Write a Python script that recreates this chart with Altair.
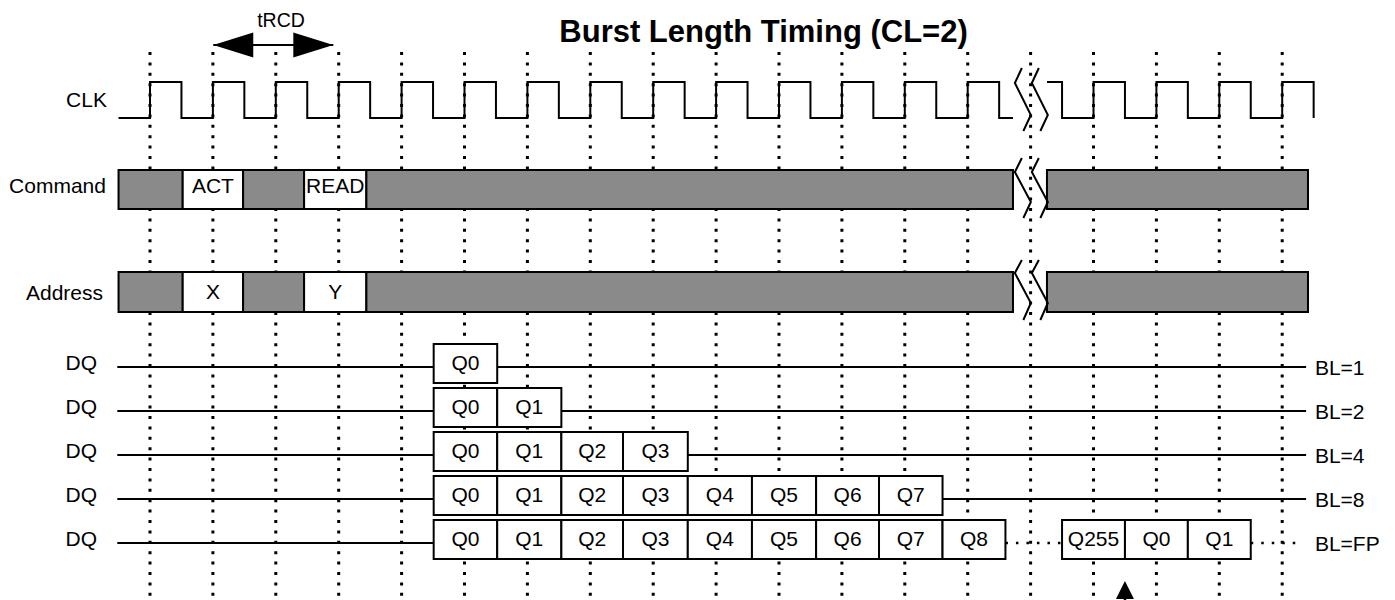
import altair as alt
import pandas as pd

# ---------------- data (x in clock cycles, y in diagram units: top 8 .. bottom 600) -------------
grid_cycles = list(range(0, 19))
grid_top, grid_bottom = 52, 600

clk_high, clk_low = 82, 118
clk_start = -0.5
clk_rises_before = list(range(0, 14))
clk_rises_after = [15, 16, 17, 18]
break_lo, break_hi = 13.72, 14.26

bus_names = ["Command", "Address"]
bus_top = [170, 272]
bus_bottom = [209, 312]
bus_text_base = [193, 299]
bus_edges = [-0.5, 0.52, 1.48, 2.45, 3.44, 13.72]
bus_after = [14.26, 18.41]
bus_texts = [["", "ACT", "", "READ", ""], ["", "X", "", "Y", ""]]

dq_levels = [367, 411, 455, 499, 543]
bl_names = ["BL=1", "BL=2", "BL=4", "BL=8", "BL=FP"]
burst_boxes = [1, 2, 4, 8, 9]
box_edges = [4.51, 5.52, 6.54, 7.52, 8.55, 9.57, 10.59, 11.59, 12.60, 13.60]
fp_edges = [14.5, 15.5, 16.5, 17.5]
fp_texts = ["Q255", "Q0", "Q1"]
dq_start, dq_end, fp_dots_end = -0.52, 18.38, 18.3

zig_left = [13.75, 14.02]
zig_dx = [0.111, 0.0, 0.254, 0.135]
zig_rows = ["CLK", "Command", "Address"]
zig_y = [[68, 83, 115, 131], [158, 172, 202, 218], [260, 273, 303, 320]]

trcd_from, trcd_to, trcd_y = 1.006, 2.914, 45
wrap_x, wrap_tip, wrap_tail = 15.5, 581, 600

right_labels = ["CLK", "Command", "Address"]
right_label_x = [-0.684, -0.70, -0.747]
right_label_y = [106.7, 193, 299.5]
dq_label_x = -0.843
bl_label_x = 18.52

title_text = "Burst Length Timing (CL=2)"
title_x, title_y = 9.754, 41.7
trcd_text = "tRCD"
trcd_text_x, trcd_text_y = 2.083, 26.7

FONT = "Liberation Sans"
W, H = 1375, 592
X_DOM = [-142 / 62.9, (W - 142) / 62.9]
Y_DOM = [8, 8 + H]

xs = alt.Scale(domain=X_DOM, nice=False, zero=False)
ys = alt.Scale(domain=Y_DOM, reverse=True, nice=False, zero=False)


def X(f="x"):
    return alt.X(f"{f}:Q", scale=xs, axis=None)


def Y(f="y"):
    return alt.Y(f"{f}:Q", scale=ys, axis=None)


# ---------------- build tables ----------------
grid_df = pd.DataFrame({"x": grid_cycles, "y": grid_top, "y2": grid_bottom})

clk_rows = []
i = 0
def add(seg, x, y):
    global i
    clk_rows.append({"seg": seg, "i": i, "x": x, "y": y})
    i += 1
add("a", clk_start, clk_low)
for r in clk_rises_before:
    add("a", r, clk_low); add("a", r, clk_high)
    add("a", r + 0.5, clk_high); add("a", r + 0.5, clk_low)
add("a", break_lo, clk_low)
add("b", break_hi, clk_high)
add("b", 14.5, clk_high); add("b", 14.5, clk_low)
for r in clk_rises_after:
    add("b", r, clk_low); add("b", r, clk_high)
    add("b", r + 0.5, clk_high); add("b", r + 0.5, clk_low)
clk_df = pd.DataFrame(clk_rows)

bus_rows, bus_text_rows = [], []
for b, name in enumerate(bus_names):
    for s in range(len(bus_edges) - 1):
        t = bus_texts[b][s]
        bus_rows.append({"x": bus_edges[s], "x2": bus_edges[s + 1],
                         "y": bus_top[b], "y2": bus_bottom[b],
                         "kind": "open" if t else "hatch"})
        if t:
            bus_text_rows.append({"x": (bus_edges[s] + bus_edges[s + 1]) / 2,
                                  "y": bus_text_base[b], "t": t})
    bus_rows.append({"x": bus_after[0], "x2": bus_after[1],
                     "y": bus_top[b], "y2": bus_bottom[b], "kind": "hatch"})
bus_df = pd.DataFrame(bus_rows)
bus_text_df = pd.DataFrame(bus_text_rows)

zig_rows_list = []
for r, name in enumerate(zig_rows):
    for z, xl in enumerate(zig_left):
        for k in range(4):
            zig_rows_list.append({"id": f"{name}{z}", "i": k,
                                  "x": xl + zig_dx[k], "y": zig_y[r][k]})
zig_df = pd.DataFrame(zig_rows_list)

line_rows, dot_rows, box_rows, box_text_rows, dq_lab_rows = [], [], [], [], []
for r, lvl in enumerate(dq_levels):
    n = burst_boxes[r]
    line_rows.append({"x": dq_start, "x2": box_edges[0], "y": lvl})
    for j in range(n):
        box_rows.append({"x": box_edges[j], "x2": box_edges[j + 1],
                         "y": lvl - 23, "y2": lvl + 16})
        box_text_rows.append({"x": (box_edges[j] + box_edges[j + 1]) / 2,
                              "y": lvl + 3, "t": f"Q{j}"})
    if bl_names[r] != "BL=FP":
        line_rows.append({"x": box_edges[n], "x2": dq_end, "y": lvl})
    else:
        dot_rows.append({"x": box_edges[n], "x2": fp_edges[0], "y": lvl})
        dot_rows.append({"x": fp_edges[-1], "x2": fp_dots_end, "y": lvl})
        for j, t in enumerate(fp_texts):
            box_rows.append({"x": fp_edges[j], "x2": fp_edges[j + 1],
                             "y": lvl - 23, "y2": lvl + 16})
            box_text_rows.append({"x": (fp_edges[j] + fp_edges[j + 1]) / 2,
                                  "y": lvl + 3, "t": t})
    dq_lab_rows.append({"x": dq_label_x, "y": lvl + 3, "t": "DQ"})
line_df = pd.DataFrame(line_rows)
dot_df = pd.DataFrame(dot_rows)
box_df = pd.DataFrame(box_rows)
box_text_df = pd.DataFrame(box_text_rows)

right_lab_df = pd.DataFrame(
    [{"x": x, "y": y, "t": t} for t, x, y in zip(right_labels, right_label_x, right_label_y)]
    + dq_lab_rows)
bl_df = pd.DataFrame([{"x": bl_label_x, "y": lvl + 7.5, "t": t}
                      for lvl, t in zip(dq_levels, bl_names)])

# ---------------- layers ----------------
grid = alt.Chart(grid_df).mark_rule(color="black", strokeWidth=3, strokeDash=[3, 7.4]).encode(
    x=X(), y=Y(), y2="y2:Q")

clk = alt.Chart(clk_df).mark_line(color="black", strokeWidth=2, interpolate="linear").encode(
    x=X(), y=Y(), detail="seg:N", order="i:Q")

bus = alt.Chart(bus_df).mark_rect(stroke="black", strokeWidth=2).encode(
    x=X(), x2="x2:Q", y=Y(), y2="y2:Q",
    fill=alt.Fill("kind:N", scale=alt.Scale(domain=["hatch", "open"],
                                            range=["#8a8a8a", "white"]), legend=None))

zig = alt.Chart(zig_df).mark_line(color="black", strokeWidth=2).encode(
    x=X(), y=Y(), detail="id:N", order="i:Q")

dq_lines = alt.Chart(line_df).mark_rule(color="black", strokeWidth=2).encode(
    x=X(), x2="x2:Q", y=Y())
dq_dots = alt.Chart(dot_df).mark_rule(color="black", strokeWidth=2.5, strokeDash=[2.5, 8]).encode(
    x=X(), x2="x2:Q", y=Y())
boxes = alt.Chart(box_df).mark_rect(fill="white", stroke="black", strokeWidth=2).encode(
    x=X(), x2="x2:Q", y=Y(), y2="y2:Q")

txt_c = dict(font=FONT, fontSize=21, color="black", baseline="alphabetic")
box_txt = alt.Chart(box_text_df).mark_text(align="center", **txt_c).encode(
    x=X(), y=Y(), text="t:N")
bus_txt = alt.Chart(bus_text_df).mark_text(align="center", **txt_c).encode(
    x=X(), y=Y(), text="t:N")
right_txt = alt.Chart(right_lab_df).mark_text(align="right", **txt_c).encode(
    x=X(), y=Y(), text="t:N")
bl_txt = alt.Chart(bl_df).mark_text(align="left", **txt_c).encode(
    x=X(), y=Y(), text="t:N")

title = alt.Chart(pd.DataFrame({"x": [title_x], "y": [title_y], "t": [title_text]})).mark_text(
    align="center", baseline="alphabetic", font=FONT, fontSize=31, fontWeight="bold",
    color="black").encode(x=X(), y=Y(), text="t:N")
trcd_lbl = alt.Chart(pd.DataFrame({"x": [trcd_text_x], "y": [trcd_text_y], "t": [trcd_text]})).mark_text(
    align="center", baseline="alphabetic", font=FONT, fontSize=19.5, color="black").encode(
    x=X(), y=Y(), text="t:N")

trcd_shaft = alt.Chart(pd.DataFrame({"x": [trcd_from], "x2": [trcd_to], "y": [trcd_y]})).mark_rule(
    color="black", strokeWidth=2).encode(x=X(), x2="x2:Q", y=Y())
head_l = alt.Chart(pd.DataFrame({"x": [trcd_from], "y": [trcd_y]})).mark_point(
    shape="M0,0 L2,-0.625 L2,0.625 Z", size=1600, filled=True, color="black", opacity=1,
    strokeWidth=0).encode(x=X(), y=Y())
head_r = alt.Chart(pd.DataFrame({"x": [trcd_to], "y": [trcd_y]})).mark_point(
    shape="M0,0 L-2,-0.625 L-2,0.625 Z", size=1600, filled=True, color="black", opacity=1,
    strokeWidth=0).encode(x=X(), y=Y())

wrap_shaft = alt.Chart(pd.DataFrame({"x": [wrap_x], "y": [wrap_tip + 10], "y2": [wrap_tail]})).mark_rule(
    color="black", strokeWidth=2.5).encode(x=X(), y=Y(), y2="y2:Q")
wrap_head = alt.Chart(pd.DataFrame({"x": [wrap_x], "y": [wrap_tip]})).mark_point(
    shape="M0,0 L-0.9,1.8 L0.9,1.8 Z", size=400, filled=True, color="black", opacity=1,
    strokeWidth=0).encode(x=X(), y=Y())

chart = alt.layer(
    grid, clk, bus, zig, dq_lines, dq_dots, boxes,
    box_txt, bus_txt, right_txt, bl_txt, title, trcd_lbl,
    trcd_shaft, head_l, head_r, wrap_shaft, wrap_head
).properties(
    width=W, height=H, padding=0, autosize=alt.AutoSizeParams(type="none"),
    background="white"
).configure_view(stroke=None)

chart.save("out.html", embed_options={"renderer": "svg", "actions": False})
